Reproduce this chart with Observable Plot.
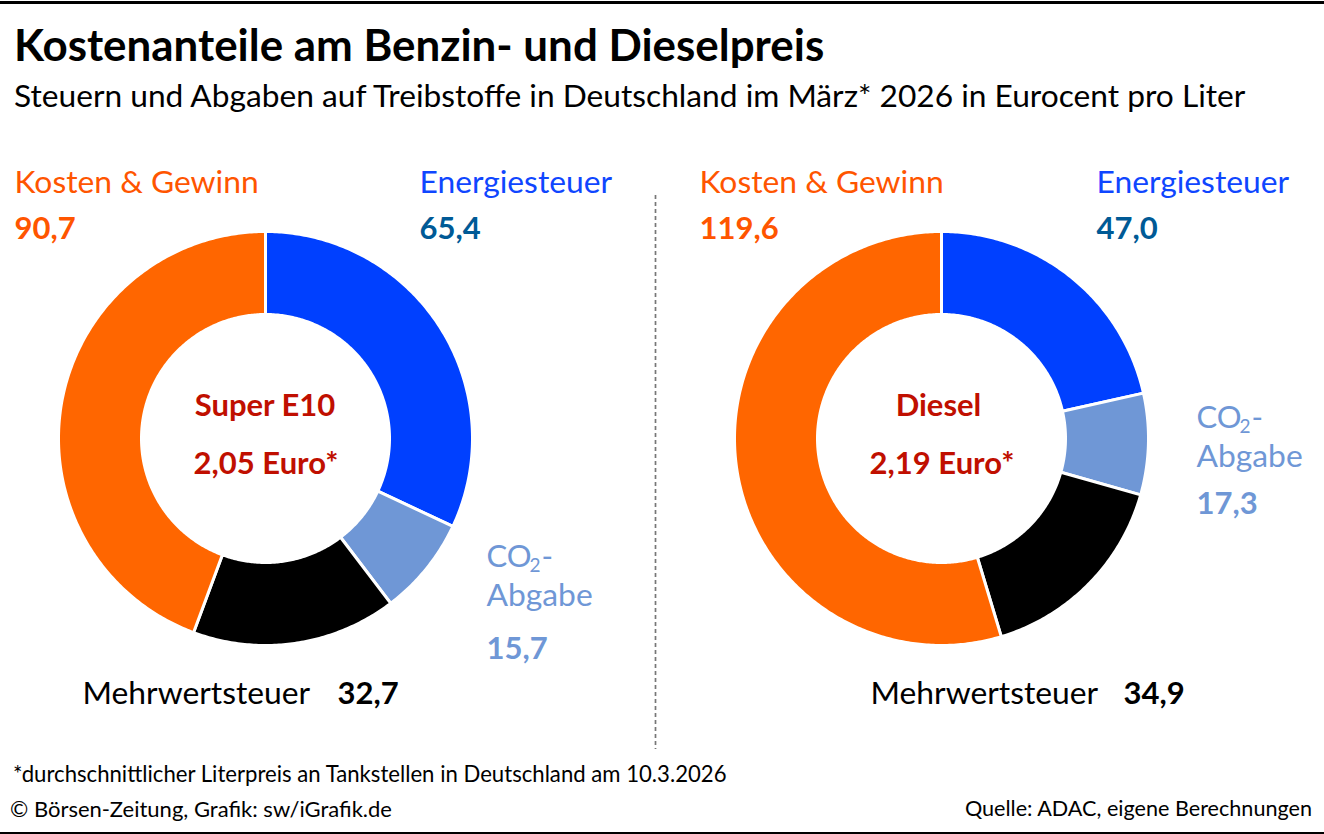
<!DOCTYPE html>
<html lang="de"><head><meta charset="utf-8">
<script src="https://cdn.jsdelivr.net/npm/d3@7"></script>
<script src="https://cdn.jsdelivr.net/npm/@observablehq/plot@0.6"></script>
<style>
html,body{margin:0;padding:0;background:#fff;width:1324px;height:834px;overflow:hidden;font-family:Lato,sans-serif;color:#000}
#page{position:relative;width:1324px;height:834px}
#head{height:130px;position:relative}
#foot{height:84px;position:relative}
.t{position:absolute;white-space:nowrap;line-height:1}
.bar{position:absolute;left:0;width:1324px;height:2.5px;background:#000}
svg{display:block}
</style></head><body>
<div id="page">
<div id="head">
<div class="bar" style="top:1px"></div>
<div class="t" style="left:14px;top:23px;font-size:43.9px;font-weight:700">Kostenanteile am Benzin- und Dieselpreis</div>
<div class="t" style="left:14px;top:80px;font-size:31.7px">Steuern und Abgaben auf Treibstoffe in Deutschland im März* 2026 in Eurocent pro Liter</div>
</div>
<div id="chart"></div>
<div id="foot">
<div class="t" style="left:13px;top:13px;font-size:22.15px">*durchschnittlicher Literpreis an Tankstellen in Deutschland am 10.3.2026</div>
<div class="t" style="left:10px;top:48px;font-size:22px">© Börsen-Zeitung, Grafik: sw/iGrafik.de</div>
<div class="t" style="right:12px;top:48px;font-size:21.6px">Quelle: ADAC, eigene Berechnungen</div>
<div class="bar" style="top:81.5px"></div>
</div>
</div>
<script>
const segments = ["Energiesteuer", "CO2-Abgabe", "Mehrwertsteuer", "Kosten & Gewinn"];
const sliceColors = ["#0040FF", "#6F97D6", "#000000", "#FF6600"];
const superE10 = [65.4, 15.7, 32.7, 90.7];
const diesel = [47.0, 17.3, 34.9, 119.6];
const fuels = ["Super E10", "Diesel"];
const prices = ["2,05 Euro*", "2,19 Euro*"];
const fmt = v => v.toFixed(1).replace(".", ",");

const R = 207, r = 124, cy = 438.5;
function ring(values, cx, fuel) {
  const total = d3.sum(values), rows = [];
  let acc = 0;
  values.forEach((v, i) => {
    const a0 = acc / total * 2 * Math.PI, a1 = (acc + v) / total * 2 * Math.PI;
    const n = Math.max(2, Math.ceil((a1 - a0) * 90));
    for (let k = 0; k <= n; ++k) {
      const a = a0 + (a1 - a0) * k / n;
      rows.push({fuel, name: segments[i],
        x1: cx + R * Math.sin(a), y1: cy - R * Math.cos(a),
        x2: cx + r * Math.sin(a), y2: cy - r * Math.cos(a)});
    }
    acc += v;
  });
  return rows;
}
const rings = [...ring(superE10, 265.5, fuels[0]), ...ring(diesel, 941.5, fuels[1])];

const orange = "#FF5500", blue = "#0F46FF", petrol = "#005A96", light = "#6F97D6", red = "#C00F00";
const regular = [
  {t: "Kosten & Gewinn", x: 14, y: 192, c: orange},
  {t: "Energiesteuer", x: 419, y: 192, c: blue},
  {t: "Abgabe", x: 486, y: 605, c: light},
  {t: "Mehrwertsteuer", x: 82, y: 703, c: "#000"},
  {t: "Kosten & Gewinn", x: 699, y: 192, c: orange},
  {t: "Energiesteuer", x: 1096, y: 192, c: blue},
  {t: "Abgabe", x: 1196, y: 466, c: light},
  {t: "Mehrwertsteuer", x: 870, y: 703, c: "#000"}
];
const co2Main = [{t: "CO", x: 486, y: 566}, {t: "CO", x: 1196, y: 427}];
const co2Sub = [{t: "2", x: 529, y: 571}, {t: "2", x: 1239, y: 432}];
const co2Dash = [{t: "-", x: 541, y: 566}, {t: "-", x: 1251, y: 427}];
const bold = [
  {t: fmt(superE10[3]), x: 14, y: 238, c: orange},
  {t: fmt(superE10[0]), x: 419, y: 238, c: petrol},
  {t: fmt(superE10[1]), x: 486, y: 658, c: light},
  {t: fmt(superE10[2]), x: 337, y: 703, c: "#000"},
  {t: fmt(diesel[3]), x: 699, y: 238, c: orange},
  {t: fmt(diesel[0]), x: 1096, y: 238, c: petrol},
  {t: fmt(diesel[1]), x: 1196, y: 513, c: light},
  {t: fmt(diesel[2]), x: 1123, y: 703, c: "#000"}
];
const centre = [
  {t: fuels[0], x: 264.5, y: 415}, {t: prices[0], x: 265.5, y: 473},
  {t: fuels[1], x: 938, y: 415}, {t: prices[1], x: 941.5, y: 473}
];
const textOpts = {x: "x", y: "y", text: "t", lineAnchor: "bottom", fontFamily: "Lato, sans-serif"};
const chart = Plot.plot({
  width: 1324, height: 620,
  marginTop: 0, marginRight: 0, marginBottom: 0, marginLeft: 0,
  x: {domain: [0, 1324], range: [0, 1324], axis: null},
  y: {domain: [130, 750], range: [0, 620], axis: null},
  color: {domain: segments, range: sliceColors},
  style: {background: "transparent", overflow: "visible"},
  marks: [
    Plot.area(rings, {x1: "x1", y1: "y1", x2: "x2", y2: "y2", z: d => d.fuel + d.name, fill: "name", stroke: "#fff", strokeWidth: 3, curve: "linear"}),
    Plot.ruleX([655], {y1: 195, y2: 749, stroke: "#777", strokeWidth: 1.7, strokeDasharray: "4 3"}),
    Plot.text(regular, {...textOpts, textAnchor: "start", fontSize: 31.8, fill: d => d.c}),
    Plot.text(co2Main, {...textOpts, textAnchor: "start", fontSize: 31, fill: light}),
    Plot.text(co2Sub, {...textOpts, textAnchor: "start", fontSize: 19, fill: light}),
    Plot.text(co2Dash, {...textOpts, textAnchor: "start", fontSize: 31, fill: light}),
    Plot.text(bold, {...textOpts, textAnchor: "start", fontSize: 31, fontWeight: 700, fill: d => d.c}),
    Plot.text(centre, {...textOpts, textAnchor: "middle", fontSize: 31, fontWeight: 700, fill: red})
  ]
});
document.getElementById("chart").append(chart);
</script>
</body></html>
